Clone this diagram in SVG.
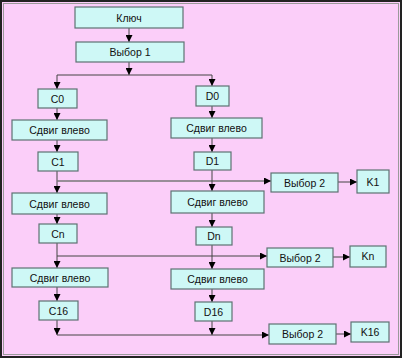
<svg xmlns="http://www.w3.org/2000/svg" width="402" height="358" viewBox="0 0 402 358">
<defs>
<marker id="ah" markerUnits="userSpaceOnUse" markerWidth="7" markerHeight="7" refX="7" refY="3.5" orient="auto">
<path d="M0,0 L7,3.5 L0,7 z" fill="#000"/>
</marker>
<style>
.n rect{fill:#CEF8F6;stroke:#5E7272;stroke-width:1.2}
.n text{font-family:"Liberation Sans",Arial,sans-serif;font-size:10.5px;fill:#111;text-anchor:middle}
.c line,.c polyline{stroke:#444;stroke-width:1;fill:none}
.c .a{marker-end:url(#ah)}
.c .h{stroke:#777;stroke-width:1.5}
</style>
</defs>
<rect x="0" y="0" width="402" height="358" fill="#FBCEF9"/>
<rect x="1" y="1" width="400" height="356" fill="none" stroke="#222" stroke-width="2"/>
<rect x="3.5" y="3.5" width="395" height="351" fill="none" stroke="#9a9a9a" stroke-width="1"/>

<g class="c" id="connectors">
<line class="a" x1="129" y1="28" x2="129" y2="42"/>
<line class="a" x1="129" y1="62" x2="129" y2="75"/>
<line x1="57" y1="75" x2="212" y2="75" stroke="#888"/>
<line class="a" x1="57" y1="75" x2="57" y2="89"/>
<line class="a" x1="212" y1="75" x2="212" y2="86"/>
<line class="a" x1="57" y1="108" x2="57" y2="120"/>
<line class="a" x1="212" y1="106" x2="212" y2="118"/>
<line class="a" x1="57" y1="140" x2="57" y2="152"/>
<line class="a" x1="212" y1="138" x2="212" y2="152"/>
<line class="a" x1="57" y1="171" x2="57" y2="193"/>
<line class="a h" x1="57" y1="181" x2="271" y2="181"/>
<line class="a" x1="212" y1="170" x2="212" y2="191"/>
<line class="a" x1="338" y1="182" x2="357" y2="182"/>
<line class="a" x1="57" y1="214" x2="57" y2="224"/>
<line class="a" x1="212" y1="213" x2="212" y2="227"/>
<line class="a" x1="57" y1="243" x2="57" y2="268"/>
<line class="a" x1="57" y1="256" x2="267" y2="256"/>
<line class="a" x1="212" y1="245" x2="212" y2="269"/>
<line class="a" x1="333" y1="257" x2="350" y2="257"/>
<line class="a" x1="57" y1="287" x2="57" y2="301"/>
<line class="a" x1="212" y1="289" x2="212" y2="302"/>
<line class="a" x1="57" y1="320" x2="57" y2="335"/>
<line class="a" x1="212" y1="321" x2="212" y2="335"/>
<line class="a" x1="57" y1="335" x2="269" y2="335"/>
<line class="a" x1="336" y1="334" x2="351" y2="334"/>
</g>

<g class="n" id="key"><rect x="75" y="7" width="108" height="21"/><text x="129" y="21.5">Ключ</text></g>
<g class="n" id="sel1"><rect x="76" y="42" width="108" height="20"/><text x="130" y="56">Выбор 1</text></g>
<g class="n" id="c0"><rect x="38" y="89" width="39" height="19"/><text x="57.5" y="102.5">C0</text></g>
<g class="n" id="d0"><rect x="196" y="86" width="33" height="20"/><text x="212.5" y="100">D0</text></g>
<g class="n" id="shl_c1"><rect x="12" y="120" width="95" height="20"/><text x="59.5" y="134">Сдвиг влево</text></g>
<g class="n" id="shl_d1"><rect x="171" y="118" width="91" height="20"/><text x="216.5" y="132">Сдвиг влево</text></g>
<g class="n" id="c1"><rect x="38" y="152" width="40" height="19"/><text x="58" y="165.5">C1</text></g>
<g class="n" id="d1"><rect x="194" y="152" width="37" height="18"/><text x="212.5" y="165">D1</text></g>
<g class="n" id="sel2a"><rect x="271" y="173" width="67" height="19"/><text x="304.5" y="186.5">Выбор 2</text></g>
<g class="n" id="k1"><rect x="357" y="170" width="32" height="23"/><text x="373" y="185.5">K1</text></g>
<g class="n" id="shl_c2"><rect x="12" y="193" width="95" height="21"/><text x="59.5" y="207.5">Сдвиг влево</text></g>
<g class="n" id="shl_d2"><rect x="171" y="191" width="93" height="22"/><text x="217.5" y="206">Сдвиг влево</text></g>
<g class="n" id="cn"><rect x="39" y="224" width="38" height="19"/><text x="58" y="237.5">Cn</text></g>
<g class="n" id="dn"><rect x="196" y="227" width="36" height="18"/><text x="214" y="240">Dn</text></g>
<g class="n" id="sel2b"><rect x="267" y="248" width="66" height="19"/><text x="300" y="261.5">Выбор 2</text></g>
<g class="n" id="kn"><rect x="350" y="246" width="36" height="21"/><text x="368" y="260">Kn</text></g>
<g class="n" id="shl_c3"><rect x="12" y="268" width="96" height="19"/><text x="60" y="281.5">Сдвиг влево</text></g>
<g class="n" id="shl_d3"><rect x="171" y="269" width="93" height="20"/><text x="217.5" y="283">Сдвиг влево</text></g>
<g class="n" id="c16"><rect x="39" y="301" width="39" height="19"/><text x="58.5" y="314.5">C16</text></g>
<g class="n" id="d16"><rect x="195" y="302" width="37" height="19"/><text x="213.5" y="315.5">D16</text></g>
<g class="n" id="sel2c"><rect x="269" y="324" width="67" height="20"/><text x="302.5" y="338">Выбор 2</text></g>
<g class="n" id="k16"><rect x="351" y="322" width="38" height="20"/><text x="370" y="336">K16</text></g>
</svg>
